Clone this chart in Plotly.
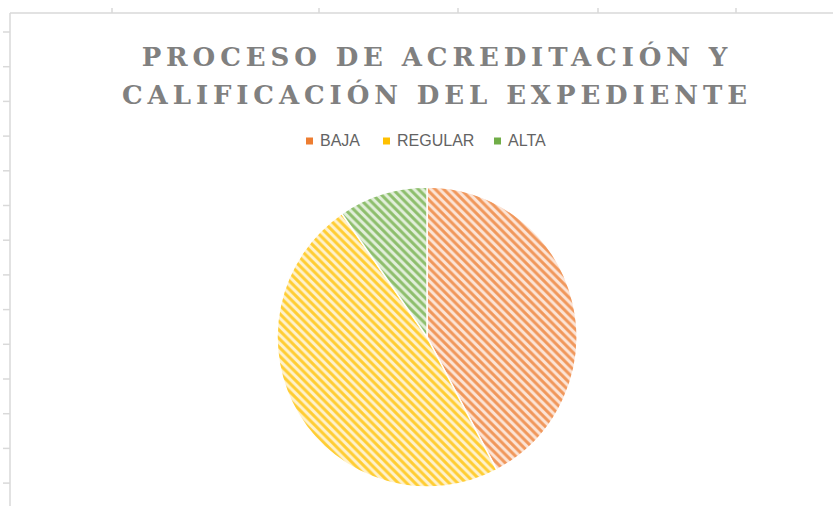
import plotly.graph_objects as go

# ---- data ----
categories = ["BAJA", "REGULAR", "ALTA"]
values = [22, 25, 5]
colors = ["#ED7D31", "#FFC000", "#70AD47"]
light_colors = ["#FCE4D6", "#FFF2CC", "#E2EFDA"]
title_text = "PROCESO DE ACREDITACIÓN Y<br>CALIFICACIÓN DEL EXPEDIENTE"

W, H = 833, 506

fig = go.Figure()
fig.add_trace(go.Pie(
    labels=categories,
    values=values,
    sort=False,
    direction="clockwise",
    rotation=0,
    textinfo="none",
    hoverinfo="label+value+percent",
    showlegend=False,
    marker=dict(
        colors=light_colors,
        line=dict(color="white", width=1.5),
        pattern=dict(shape="\\", size=6, solidity=0.5,
                     fgcolor=colors, bgcolor=light_colors, fgopacity=0.75),
    ),
    domain=dict(x=[(427 - 150) / W, (427 + 150) / W],
                y=[(H - 337 - 150) / H, (H - 337 + 150) / H]),
))

shapes = []
annotations = []
# custom legend
leg_sq_x = [306, 383, 494]
leg_y = 141
for cat, col, sx in zip(categories, colors, leg_sq_x):
    shapes.append(dict(type="rect", xref="paper", yref="paper",
                       x0=sx / W, x1=(sx + 7) / W,
                       y0=(H - leg_y - 3.5) / H, y1=(H - leg_y + 3.5) / H,
                       fillcolor=col, line=dict(width=0)))
    annotations.append(dict(text=cat, xref="paper", yref="paper",
                            x=(sx + 12) / W, y=(H - leg_y) / H,
                            xanchor="left", yanchor="middle", showarrow=False,
                            font=dict(family="Liberation Sans", size=16, color="#636363")))

# spreadsheet frame lines
grid = "#D9D9D9"
shapes.append(dict(type="line", xref="paper", yref="paper", x0=10 / W, x1=1,
                   y0=(H - 13) / H, y1=(H - 13) / H, line=dict(color=grid, width=1.5)))
shapes.append(dict(type="line", xref="paper", yref="paper", x0=10 / W, x1=10 / W,
                   y0=0, y1=(H - 13) / H, line=dict(color=grid, width=1.5)))
for tx in [112, 319, 458, 598, 736]:
    shapes.append(dict(type="line", xref="paper", yref="paper", x0=tx / W, x1=tx / W,
                       y0=(H - 13) / H, y1=(H - 8) / H, line=dict(color=grid, width=1.5)))
for k in range(14):
    ty = 32 + 34.7 * k
    shapes.append(dict(type="line", xref="paper", yref="paper", x0=3 / W, x1=10 / W,
                       y0=(H - ty) / H, y1=(H - ty) / H, line=dict(color=grid, width=1.5)))

fig.update_layout(
    width=W, height=H,
    margin=dict(l=0, r=0, t=0, b=0),
    paper_bgcolor="white",
    plot_bgcolor="white",
    title=dict(text="<b>" + title_text + "</b>",
               x=437 / W, xanchor="center",
               y=1 - 66 / H, yanchor="top",
               font=dict(family="DejaVu Serif", size=26, color="#808080")),
    shapes=shapes,
    annotations=annotations,
)

post = """
document.body.style.margin = '0';
document.body.style.overflow = 'hidden';
document.querySelectorAll('.gtitle').forEach(function(t){
  t.style.letterSpacing = '4.9px';
  var lines = t.querySelectorAll('tspan.line');
  for (var i = 1; i < lines.length; i++) { lines[i].setAttribute('dy', '1.48em'); }
});
"""
fig.write_html("out.html", post_script=post, config={"displayModeBar": False})
